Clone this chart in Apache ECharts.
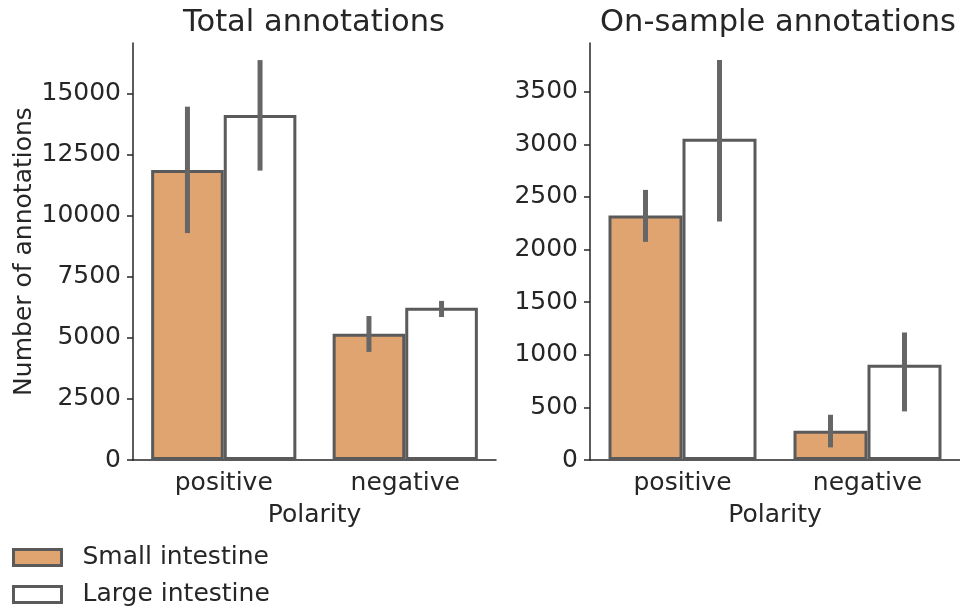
<!DOCTYPE html>
<html>
<head>
<meta charset="utf-8">
<script src="https://cdn.jsdelivr.net/npm/echarts@6/dist/echarts.min.js"></script>
<style>
html,body{margin:0;padding:0;background:#fff;}
#chart{width:960px;height:608px;}
</style>
</head>
<body>
<div id="chart"></div>
<script>
// ---- data ----
const categories = ['positive', 'negative'];
const seriesNames = ['Small intestine', 'Large intestine'];

const totalSmall = [11885, 5170];
const totalLarge = [14140, 6240];
const totalSmallErr = [[9300, 14480], [4430, 5900]];
const totalLargeErr = [[11860, 16390], [5860, 6520]];

const onSmall = [2323, 278];
const onLarge = [3054, 905];
const onSmallErr = [[2073, 2567], [120, 430]];
const onLargeErr = [[2266, 3802], [462, 1212]];

const totalTicks = [0, 2500, 5000, 7500, 10000, 12500, 15000];
const onTicks = [0, 500, 1000, 1500, 2000, 2500, 3000, 3500];
const totalMax = 17090;
const onMax = 3963;

// ---- style ----
const FONT = 'DejaVu Sans';
const TXT = '#262626';
const ORANGE = '#e0a470';
const EDGE = '#5a5a5a';
const ERR = '#666666';
const FS = 25;

function errData(arr) {
  return arr.map((r, i) => [i, r[0], r[1]]);
}

function errSeries(name, idx, data, offsetSign) {
  return {
    name: name,
    type: 'custom',
    xAxisIndex: idx,
    yAxisIndex: idx,
    z: 5,
    silent: true,
    data: errData(data),
    renderItem: function (params, api) {
      const c = api.value(0);
      const lo = api.coord([c, api.value(1)]);
      const hi = api.coord([c, api.value(2)]);
      const band = api.size([1, 0])[0];
      const x = lo[0] + offsetSign * 0.2 * band;
      return {
        type: 'line',
        shape: { x1: x, y1: lo[1], x2: x, y2: hi[1] },
        style: { stroke: ERR, lineWidth: 5, lineCap: 'butt' }
      };
    }
  };
}

function barSeries(name, idx, data, color) {
  return {
    name: name,
    type: 'bar',
    xAxisIndex: idx,
    yAxisIndex: idx,
    barWidth: '40%',
    barGap: '0%',
    data: data,
    itemStyle: { color: color, borderColor: EDGE, borderWidth: 3 },
    emphasis: { disabled: true }
  };
}

function xAxis(idx) {
  return {
    type: 'category',
    gridIndex: idx,
    data: categories,
    name: 'Polarity',
    nameLocation: 'middle',
    nameGap: 43,
    nameTextStyle: { fontFamily: FONT, fontSize: FS, color: TXT },
    axisLine: { lineStyle: { color: TXT, width: 1.5 } },
    axisTick: { alignWithLabel: true, length: 6, lineStyle: { color: TXT, width: 1.5 } },
    axisLabel: { fontFamily: FONT, fontSize: FS, color: TXT, margin: 11 },
    splitLine: { show: false }
  };
}

function yAxis(idx, max, ticks, name) {
  const a = {
    type: 'value',
    gridIndex: idx,
    min: 0,
    max: max,
    axisLine: { show: true, lineStyle: { color: TXT, width: 1.5 } },
    axisTick: { show: true, length: 6, lineStyle: { color: TXT, width: 1.5 }, customValues: ticks },
    axisLabel: { fontFamily: FONT, fontSize: FS, color: TXT, margin: 12, customValues: ticks,
      formatter: function (v) { return String(v); } },
    splitLine: { show: false }
  };
  if (name) {
    a.name = name;
    a.nameLocation = 'middle';
    a.nameGap = 96;
    a.nameTextStyle = { fontFamily: FONT, fontSize: FS, color: TXT };
  }
  return a;
}

const chart = echarts.init(document.getElementById('chart'), null, { renderer: 'canvas' });
chart.setOption({
  animation: false,
  backgroundColor: '#ffffff',
  title: [
    { text: 'Total annotations', left: 314, top: 8, textAlign: 'center', padding: 0,
      textStyle: { fontFamily: FONT, fontSize: 30.5, fontWeight: 'normal', color: TXT } },
    { text: 'On-sample annotations', left: 778, top: 8, textAlign: 'center', padding: 0,
      textStyle: { fontFamily: FONT, fontSize: 30.5, fontWeight: 'normal', color: TXT } }
  ],
  legend: {
    orient: 'vertical',
    left: 12,
    top: 545,
    height: 80,
    width: 400,
    padding: 0,
    itemWidth: 48,
    itemHeight: 16,
    itemGap: 12,
    icon: 'rect',
    selectedMode: false,
    data: [
      { name: seriesNames[0], itemStyle: { color: ORANGE, borderColor: EDGE, borderWidth: 3 } },
      { name: seriesNames[1], itemStyle: { color: '#ffffff', borderColor: EDGE, borderWidth: 3 } }
    ],
    textStyle: { fontFamily: FONT, fontSize: FS, color: TXT, padding: [0, 0, 0, 16] }
  },
  grid: [
    { left: 133, top: 43, width: 363, height: 417 },
    { left: 590, top: 43, width: 377, height: 417 }
  ],
  xAxis: [xAxis(0), xAxis(1)],
  yAxis: [yAxis(0, totalMax, totalTicks, 'Number of annotations'), yAxis(1, onMax, onTicks, null)],
  series: [
    barSeries(seriesNames[0], 0, totalSmall, ORANGE),
    barSeries(seriesNames[1], 0, totalLarge, '#ffffff'),
    barSeries(seriesNames[0], 1, onSmall, ORANGE),
    barSeries(seriesNames[1], 1, onLarge, '#ffffff'),
    errSeries('errTS', 0, totalSmallErr, -1),
    errSeries('errTL', 0, totalLargeErr, 1),
    errSeries('errOS', 1, onSmallErr, -1),
    errSeries('errOL', 1, onLargeErr, 1)
  ]
});
</script>
</body>
</html>
